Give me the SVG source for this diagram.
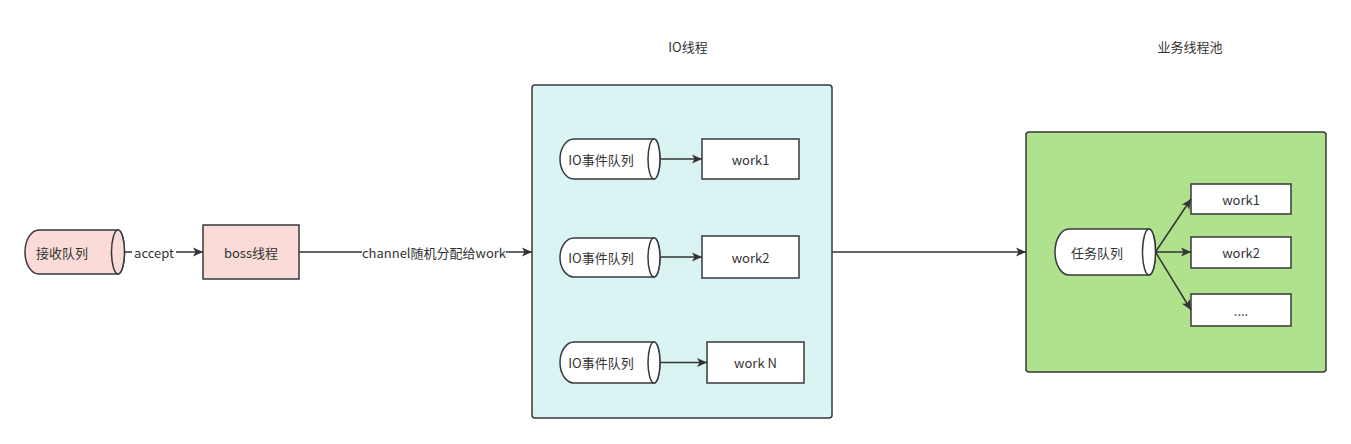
<svg xmlns="http://www.w3.org/2000/svg" width="1351" height="444" viewBox="0 0 1351 444">
<defs>
<marker id="arr" viewBox="0 0 10 10" refX="10" refY="5" markerWidth="10" markerHeight="10" markerUnits="userSpaceOnUse" orient="auto">
<path d="M0,0.5 L10,5 L0,9.5 L2.5,5 Z" fill="#333333"/>
</marker>
<style>
text{font-family:"Noto Sans CJK SC","Liberation Sans",sans-serif;font-size:13px;fill:#333333;text-anchor:middle;dominant-baseline:central}
.box{stroke:#36393d;stroke-width:1.5}
.ln{stroke:#333333;stroke-width:1.5;fill:none;marker-end:url(#arr)}
.lbl{fill:#ffffff}
</style>
</defs>
<rect width="1351" height="444" fill="#ffffff"/>
<text x="688" y="46">IO线程</text>
<text x="1190" y="46">业务线程池</text>
<g id="io-container"><rect class="box" x="532" y="85" width="300" height="333" rx="3" fill="#daf4f4"/></g>
<g id="biz-container"><rect class="box" x="1026" y="132" width="300" height="240" rx="3" fill="#b0e28e"/></g>
<g id="recv-queue">
<path class="box" fill="#fadbd8" d="M39,230 L118,230 A6.5,22 0 0 1 118,274 L39,274 A14,22 0 0 1 39,230 Z"/>
<ellipse class="box" cx="118" cy="252" rx="6.5" ry="22" fill="#fadbd8"/>
<text x="62" y="252">接收队列</text>
</g>
<g id="boss"><rect class="box" x="203" y="225" width="96" height="54" fill="#fadbd8"/><text x="251" y="252">boss线程</text></g>
<g id="io-q1">
<path class="box" fill="#ffffff" d="M574,139 L654,139 A6,20 0 0 1 654,179 L574,179 A14,20 0 0 1 574,139 Z"/>
<ellipse class="box" cx="654" cy="159" rx="6" ry="20" fill="#ffffff"/>
<text x="601" y="159">IO事件队列</text>
</g>
<g id="io-q2">
<path class="box" fill="#ffffff" d="M574,238 L654,238 A6,19.5 0 0 1 654,277 L574,277 A14,19.5 0 0 1 574,238 Z"/>
<ellipse class="box" cx="654" cy="257.5" rx="6" ry="19.5" fill="#ffffff"/>
<text x="601" y="257.5">IO事件队列</text>
</g>
<g id="io-q3">
<path class="box" fill="#ffffff" d="M574,342 L654,342 A6,20.5 0 0 1 654,383 L574,383 A14,20.5 0 0 1 574,342 Z"/>
<ellipse class="box" cx="654" cy="362.5" rx="6" ry="20.5" fill="#ffffff"/>
<text x="601" y="362.5">IO事件队列</text>
</g>
<g id="io-w1"><rect class="box" x="702" y="139" width="97" height="40" fill="#ffffff"/><text x="750.5" y="159">work1</text></g>
<g id="io-w2"><rect class="box" x="702" y="236" width="97" height="42" fill="#ffffff"/><text x="750.5" y="257">work2</text></g>
<g id="io-wn"><rect class="box" x="707" y="342" width="97" height="41" fill="#ffffff"/><text x="755.5" y="362.5">work N</text></g>
<g id="task-queue">
<path class="box" fill="#ffffff" d="M1069,229 L1149,229 A6.5,23 0 0 1 1149,275 L1069,275 A14,23 0 0 1 1069,229 Z"/>
<ellipse class="box" cx="1149" cy="252" rx="6.5" ry="23" fill="#ffffff"/>
<text x="1097" y="252">任务队列</text>
</g>
<g id="biz-w1"><rect class="box" x="1191" y="184" width="100" height="30" fill="#ffffff"/><text x="1241" y="199">work1</text></g>
<g id="biz-w2"><rect class="box" x="1191" y="237" width="100" height="31" fill="#ffffff"/><text x="1241" y="252.5">work2</text></g>
<g id="biz-w3"><rect class="box" x="1191" y="294" width="100" height="32" fill="#ffffff"/><text x="1241" y="310">....</text></g>
<g id="connectors">
<line class="ln" x1="124.5" y1="252" x2="203" y2="252"/>
<rect class="lbl" x="132" y="244" width="44" height="16"/>
<text x="154" y="252">accept</text>
<line class="ln" x1="299" y1="252" x2="532" y2="252"/>
<rect class="lbl" x="362" y="244" width="144" height="16"/>
<text x="434" y="252">channel随机分配给work</text>
<line class="ln" x1="660" y1="159" x2="702" y2="159"/>
<line class="ln" x1="660" y1="257" x2="702" y2="257"/>
<line class="ln" x1="660" y1="362.5" x2="707" y2="362.5"/>
<line class="ln" x1="832" y1="252" x2="1026" y2="252"/>
<line class="ln" x1="1155.5" y1="252" x2="1191" y2="199"/>
<line class="ln" x1="1155.5" y1="252" x2="1191" y2="252"/>
<line class="ln" x1="1155.5" y1="252" x2="1191" y2="310"/>
</g>
</svg>
